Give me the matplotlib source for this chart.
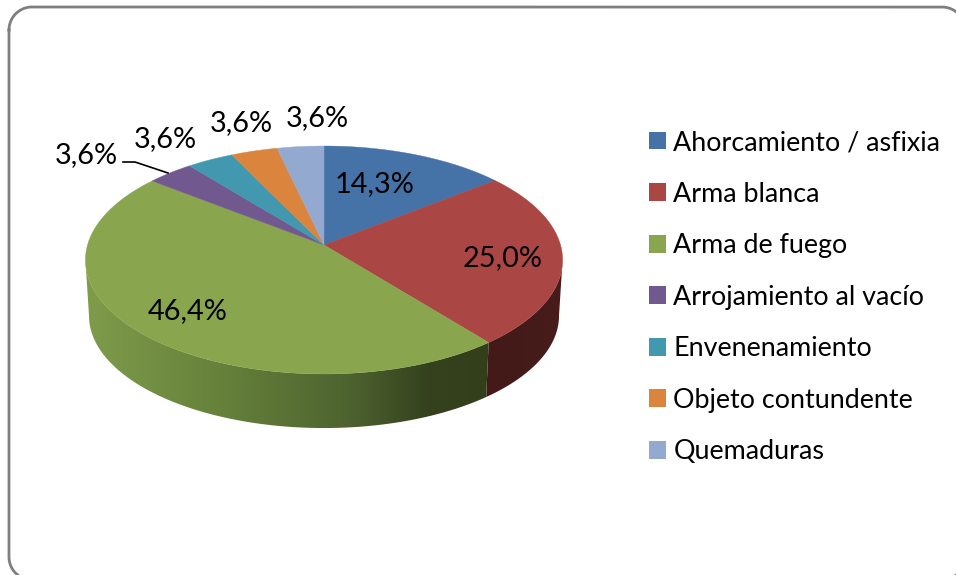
import numpy as np
import matplotlib
matplotlib.use("Agg")
import matplotlib.pyplot as plt
from matplotlib.colors import LinearSegmentedColormap
from matplotlib.patches import Patch, Polygon

categories = ["Ahorcamiento / asfixia", "Arma blanca", "Arma de fuego", "Arrojamiento al vacío",
              "Envenenamiento", "Objeto contundente", "Quemaduras"]
values = [14.3, 25.0, 46.4, 3.6, 3.6, 3.6, 3.6]
colors = ["#4572A7", "#AA4643", "#89A54E", "#71588F", "#4198AF", "#DB843D", "#93A9CF"]

W, H = 956, 575
plt.rcParams['font.family'] = ['Lato', 'DejaVu Sans']

fig = plt.figure(figsize=(W / 100, H / 100), dpi=100, facecolor='white')

# todo en pixeles de la imagen
ax = fig.add_axes([0, 0, 1, 1])
ax.set_xlim(0, W)
ax.set_ylim(H, 0)
ax.axis('off')
ax.set_autoscale_on(False)


# marco redondeado, se sale por la derecha y por abajo
def rounded_frame(x0, y0, x1, y1, r):
    a = np.linspace(0, np.pi / 2, 40)
    xs = np.r_[x0 + r - r * np.cos(a), x1 - r + r * np.sin(a), x1 - r + r * np.cos(a), x0 + r - r * np.sin(a), x0]
    ys = np.r_[y0 + r - r * np.sin(a), y0 + r - r * np.cos(a), y1 - r + r * np.sin(a), y1 - r + r * np.cos(a), y0 + r]
    return xs, ys


fx, fy = rounded_frame(9, 7, 965, 580, 23)
ax.plot(fx, fy, color='#7f7f7f', lw=2, zorder=1)

# pie en perspectiva: circulo unitario proyectado
cx, cy = 324, 245
rx, ry, k = 236.5, 112, 0.1316
shrink, drop = 0.985, 56


def rim(clock_deg, s=1.0, dy=0):
    a = np.radians(clock_deg)
    u, v = np.sin(a), np.cos(a)
    den = 1 + k * v
    return cx + s * rx * u / den, cy + dy - s * ry * v / den


cum = 360 * np.r_[0, np.cumsum(values)] / np.sum(values)
sil = np.degrees(np.arccos(-k))  # donde el borde es mas ancho


def wall(a0, a1):
    t = np.linspace(a0, a1, 200)
    x0, y0 = rim(t)
    x1, y1 = rim(t, shrink, drop)
    return np.column_stack([np.r_[x0, x1[::-1]], np.r_[y0, y1[::-1]]])


green_cmap = LinearSegmentedColormap.from_list(
    "g", [(0, "#7F9C4B"), (0.35, "#64803A"), (0.65, "#4E6330"), (0.85, "#35421D"), (1, "#333F1B")])
red_cmap = LinearSegmentedColormap.from_list("r", ["#431A18", "#471C1A"])
grad = np.linspace(0, 1, 256).reshape(1, -1)

for a0, a1, cmap in [(sil, cum[2], red_cmap), (cum[2], 360 - sil, green_cmap)]:
    pts = wall(a0, a1)
    poly = Polygon(pts, fc='none', ec='none', transform=ax.transData)
    ax.add_patch(poly)
    im = ax.imshow(grad, cmap=cmap, extent=(pts[:, 0].min(), pts[:, 0].max(), pts[:, 1].max(), pts[:, 1].min()),
                   aspect='auto', zorder=2)
    im.set_clip_path(poly)

# cara superior
for i, c in enumerate(colors):
    t = np.linspace(cum[i], cum[i + 1], 80)
    x, y = rim(t)
    ax.fill(np.r_[cx, x], np.r_[cy, y], color=c, lw=0.3, zorder=3)

# etiquetas
pct_labels = [f"{v:.1f}%".replace('.', ',') for v in values]
label_xy = [(375, 184), (503, 258), (188, 311), (86, 155), (165, 139), (241, 123), (317, 118)]
for s, (x, y) in zip(pct_labels, label_xy):
    ax.text(x, y, s, ha='center', va='center', fontsize=20.8, color='black', zorder=5)
ax.plot([123, 135, 168], [162, 162, 173], color='black', lw=1.2, zorder=4)

# leyenda
handles = [Patch(fc=c, ec='none') for c in colors]
ax.legend(handles, categories, loc='upper left', bbox_to_anchor=(641 / W, 1 - 122 / H),
          bbox_transform=fig.transFigure, frameon=False, fontsize=19.4, handlelength=0.63, handleheight=0.63,
          handletextpad=0.27, labelspacing=0.985, borderpad=0.3, borderaxespad=0)

fig.savefig("out.png", dpi=100)
